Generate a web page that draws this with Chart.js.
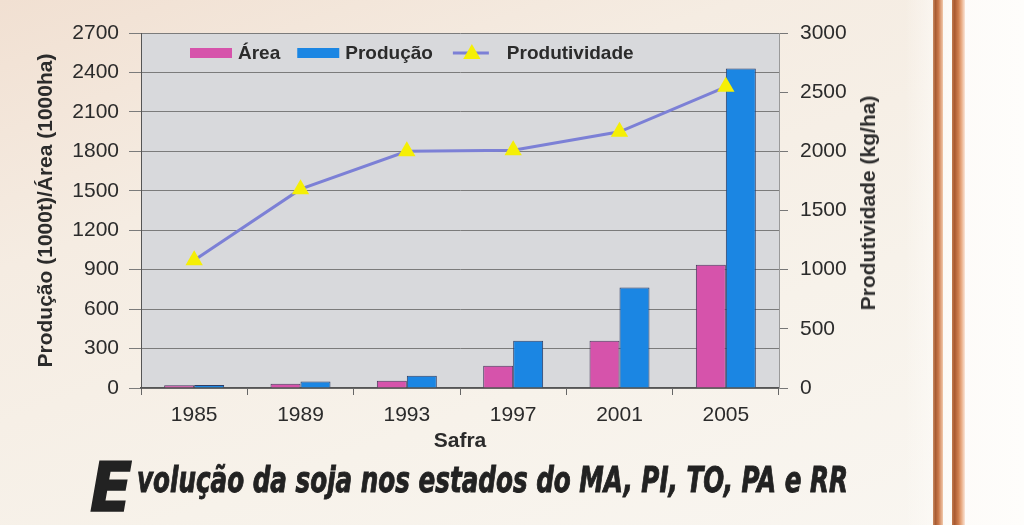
<!DOCTYPE html>
<html lang="pt">
<head>
<meta charset="utf-8">
<title>Evolução da soja nos estados do MA, PI, TO, PA e RR</title>
<script src="https://cdn.jsdelivr.net/npm/chart.js@4.4.1/dist/chart.umd.min.js"></script>
<style>
  html, body { margin: 0; padding: 0; }
  body {
    width: 1024px; height: 525px; overflow: hidden; position: relative;
    background: linear-gradient(160deg, #f1e0d2 0%, #f5ece2 30%, #f7f2ea 65%, #f9f6f1 100%);
    font-family: "Liberation Sans", Arial, sans-serif;
  }
  #wrap { position: absolute; left: 0; top: 0; width: 930px; height: 470px; }
  #margem { position: absolute; left: 905px; top: 0; width: 119px; height: 525px;
            background: linear-gradient(to right, rgba(253,251,248,0) 0%, #fdfbf8 40%, #fefdfb 100%); }
  .faixa { position: absolute; top: 0; height: 525px; }
  #faixa1 { left: 933px; width: 10px;
            background: linear-gradient(to right, #c98a62 0%, #a85c33 25%, #c9784a 55%, #f2c9ab 100%); }
  #faixa2 { left: 952px; width: 13px;
            background: linear-gradient(to right, #c07a4e 0%, #a95a31 20%, #cf7f4f 50%, #eab08a 75%, #fbe6d8 100%); }
  #tituloDir {
    position: absolute; left: 868px; top: 203px;
    transform: translate(-50%, -50%) rotate(-90deg);
    white-space: nowrap; font-weight: bold; font-size: 21px; color: #2e2e2e;
  }
  .tit { position: absolute; white-space: nowrap; line-height: 1; color: #222;
         font-family: "Liberation Sans Narrow", "DejaVu Sans Condensed", "Liberation Sans", sans-serif;
         font-weight: bold; font-style: italic; transform-origin: 0 0; }
  #letraE { left: 90px; top: 455px; font-size: 67px; -webkit-text-stroke: 1.5px #222; }
  #resto { left: 137px; top: 463px; font-size: 35px; -webkit-text-stroke: 0.9px #222; }
</style>
</head>
<body>
<div id="margem"></div>
<div class="faixa" id="faixa1"></div>
<div class="faixa" id="faixa2"></div>
<div id="wrap"><canvas id="grafico" width="930" height="470"></canvas></div>
<div id="tituloDir">Produtividade (kg/ha)</div>
<div class="tit" id="letraE">E</div>
<div class="tit" id="resto">volução da soja nos estados do MA, PI, TO, PA e RR</div>

<script>
// dados
const safras = ['1985', '1989', '1993', '1997', '2001', '2005'];
const area = [20, 33, 55, 170, 360, 938];              // 1000 ha
const producao = [22, 50, 94, 360, 765, 2430];         // 1000 t
const produtividade = [1080, 1680, 2000, 2010, 2165, 2545]; // kg/ha

// escalas
const eixoEsqMax = 2700;
const eixoEsqPasso = 300;
const eixoDirMax = 3000;
const eixoDirPasso = 500;

const corArea = '#d653ab';
const corProducao = '#1b86e3';
const corLinha = '#7c80d6';
const corMarcador = '#f5ef05';
const corTexto = '#2b2b2b';

const fonteTicks = { family: '"Liberation Sans", Arial, sans-serif', size: 21 };
const fonteTitulo = { family: '"Liberation Sans", Arial, sans-serif', size: 21, weight: 'bold' };

// sem separador de milhar, como no original
const semSeparador = v => String(v);

// fundo cinza da área de plotagem
const fundoPlot = {
    id: 'fundoPlot',
    beforeDraw(chart) {
        const { ctx, chartArea: a } = chart;
        ctx.save();
        ctx.fillStyle = '#d8d9dc';
        ctx.fillRect(a.left, a.top, a.right - a.left, a.bottom - a.top);
        ctx.restore();
    }
};

// legenda dentro da área de plotagem
const legendaInterna = {
    id: 'legendaInterna',
    afterDatasetsDraw(chart) {
        const ctx = chart.ctx;
        const a = chart.chartArea;
        const y = a.top + 20;
        let x = a.left + 49;
        ctx.save();
        ctx.font = 'bold 19px "Liberation Sans", Arial, sans-serif';
        ctx.textBaseline = 'middle';
        chart.data.datasets.forEach(ds => {
            if (ds.type === 'line') {
                x += 3;
                ctx.strokeStyle = ds.borderColor;
                ctx.lineWidth = 3;
                ctx.beginPath();
                ctx.moveTo(x, y);
                ctx.lineTo(x + 36, y);
                ctx.stroke();
                ctx.fillStyle = ds.pointBackgroundColor;
                Chart.helpers.drawPoint(ctx, {
                    pointStyle: 'triangle', radius: 10, rotation: 0, borderWidth: 0
                }, x + 19, y + 1);
                x += 54;
            } else {
                ctx.fillStyle = ds.backgroundColor;
                ctx.fillRect(x, y - 5, 42, 10);
                x += 48;
            }
            ctx.fillStyle = corTexto;
            ctx.fillText(ds.label, x, y + 1);
            x += ctx.measureText(ds.label).width + 17;
        });
        ctx.restore();
    }
};

new Chart(document.getElementById('grafico'), {
    type: 'bar',
    data: {
        labels: safras,
        datasets: [
            {
                label: 'Área',
                data: area,
                yAxisID: 'y',
                backgroundColor: corArea,
                borderColor: '#4a3a5e',
                borderWidth: 1,
                categoryPercentage: 0.564,
                barPercentage: 1,
                order: 2
            },
            {
                label: 'Produção',
                data: producao,
                yAxisID: 'y',
                backgroundColor: corProducao,
                borderColor: '#2e3e66',
                borderWidth: 1,
                categoryPercentage: 0.564,
                barPercentage: 1,
                order: 2
            },
            {
                type: 'line',
                label: 'Produtividade',
                data: produtividade,
                yAxisID: 'y2',
                borderColor: corLinha,
                borderWidth: 3,
                tension: 0,
                pointStyle: 'triangle',
                pointRadius: 10,
                pointBackgroundColor: corMarcador,
                pointBorderWidth: 0,
                order: 0
            }
        ]
    },
    options: {
        responsive: false,
        animation: false,
        devicePixelRatio: 1,
        layout: { padding: { top: 33, left: 0, right: 0, bottom: 0 } },
        plugins: {
            legend: { display: false },
            tooltip: { enabled: false }
        },
        scales: {
            x: {
                grid: { drawOnChartArea: false, offset: true, tickLength: 7, color: '#666' },
                border: { display: true, color: '#555', width: 1.5 },
                ticks: { font: fonteTicks, color: corTexto, padding: 8 },
                title: { display: true, text: 'Safra', font: fonteTitulo, color: corTexto, padding: { top: 0, bottom: 16 } },
                afterFit(s) { s.height = 82; }
            },
            y: {
                position: 'left',
                min: 0,
                max: eixoEsqMax,
                ticks: { stepSize: eixoEsqPasso, font: fonteTicks, color: corTexto, padding: 10, callback: semSeparador },
                grid: { color: '#7b7b7b', tickLength: 12 },
                border: { color: '#555' },
                title: { display: true, text: 'Produção (1000t)/Área (1000ha)', font: fonteTitulo, color: corTexto, padding: { top: 34, bottom: 0 } },
                afterFit(s) { s.width = 141; }
            },
            y2: {
                position: 'right',
                min: 0,
                max: eixoDirMax,
                ticks: { stepSize: eixoDirPasso, font: fonteTicks, color: corTexto, padding: 12, callback: semSeparador },
                grid: { drawOnChartArea: false, tickLength: 9, color: '#777' },
                border: { color: '#9a9a9a' },
                afterFit(s) { s.width = 151; }
            }
        }
    },
    plugins: [fundoPlot, legendaInterna]
});

// ajusta a largura do título ao original
function ajustaTitulo(id, largura) {
    const el = document.getElementById(id);
    const w = el.getBoundingClientRect().width;
    if (w > 0) el.style.transform = 'scaleX(' + (largura / w) + ')';
}
ajustaTitulo('letraE', 42);
ajustaTitulo('resto', 711);
</script>
</body>
</html>
